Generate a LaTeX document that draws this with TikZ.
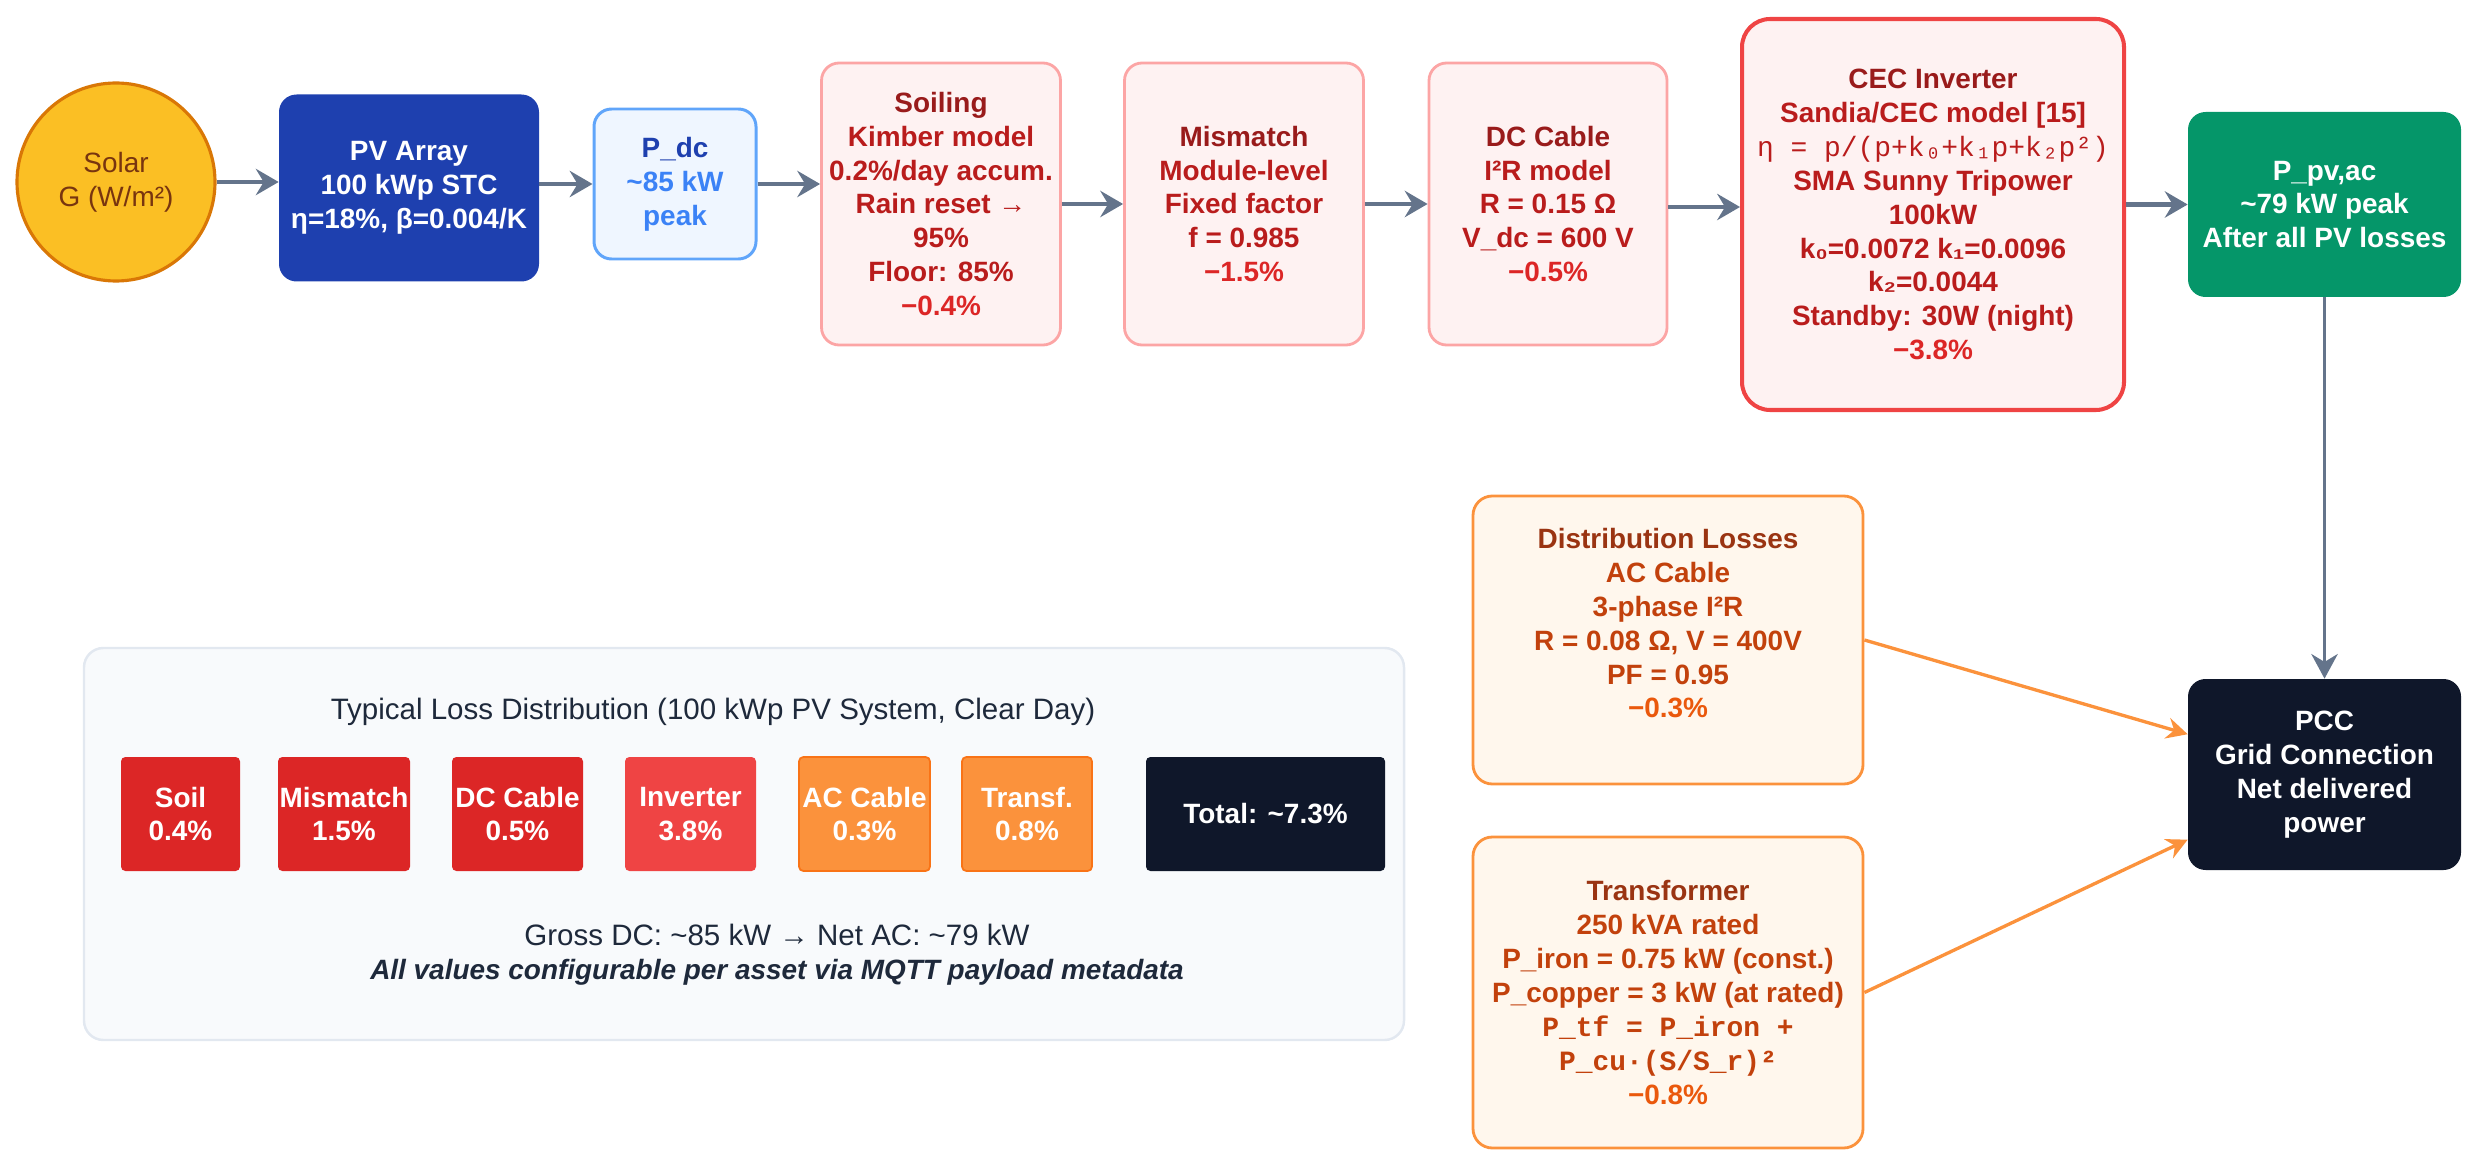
\documentclass[tikz,border=0pt]{standalone}
\usepackage{fontspec}
\setmainfont{Liberation Sans}
\setmonofont{Liberation Mono}
\usetikzlibrary{arrows.meta,calc}
\definecolor{arrgray}{HTML}{64748B}
\definecolor{sunfill}{HTML}{FBBF24}
\definecolor{sunline}{HTML}{D97706}
\definecolor{suntext}{HTML}{78350F}
\definecolor{pvblue}{HTML}{1E40AF}
\definecolor{pdcfill}{HTML}{EFF6FF}
\definecolor{pdcline}{HTML}{60A5FA}
\definecolor{pdctext}{HTML}{3B82F6}
\definecolor{lossfill}{HTML}{FEF2F2}
\definecolor{lossline}{HTML}{FCA5A5}
\definecolor{invline}{HTML}{EF4444}
\definecolor{redtitle}{HTML}{991B1B}
\definecolor{redbody}{HTML}{B91C1C}
\definecolor{redloss}{HTML}{DC2626}
\definecolor{green}{HTML}{059669}
\definecolor{navy}{HTML}{0F172A}
\definecolor{orfill}{HTML}{FFF7ED}
\definecolor{orline}{HTML}{FB923C}
\definecolor{ortitle}{HTML}{9A3412}
\definecolor{orbody}{HTML}{C2410C}
\definecolor{orloss}{HTML}{EA580C}
\definecolor{panelfill}{HTML}{F8FAFC}
\definecolor{panelline}{HTML}{E2E8F0}
\definecolor{slate}{HTML}{1E293B}
\definecolor{minired}{HTML}{DC2626}
\definecolor{miniinv}{HTML}{EF4444}
\definecolor{minior}{HTML}{FB923C}
\definecolor{miniorline}{HTML}{F97316}
\newcommand{\fs}{\fontsize{15.9}{19.3}\selectfont}
\newcommand{\fsl}{\fontsize{16.8}{19.3}\selectfont}
\newcommand{\bt}{\fs\bfseries}
\begin{document}
\begin{tikzpicture}[x=0.02cm,y=-0.02cm,
  sz/.style 2 args={minimum width=#1*0.02cm, minimum height=#2*0.02cm, inner sep=0pt},
  txt/.style={align=center, font=\bt},
  gflow/.style={draw=arrgray, line width=2.6pt, -{Stealth[length=13pt,width=15pt,inset=4.5pt]}},
  oflow/.style={draw=orline, line width=1.9pt, -{Stealth[length=12pt,width=12pt,inset=4pt]}},
  pflow/.style={draw=arrgray, line width=2pt, -{Stealth[length=14pt,width=15pt,inset=4.5pt]}},
  lossbox/.style={txt, draw=lossline, fill=lossfill, line width=1.6pt, rounded corners=10pt},
  orbox/.style={txt, draw=orline, fill=orfill, line width=1.6pt, rounded corners=11pt},
  mini/.style={txt, text=white, rounded corners=2.5pt},
]
\useasboundingbox (0,0) rectangle (2477,1165);

% top row
\node[circle, draw=sunline, fill=sunfill, line width=1.8pt, minimum size=198*0.02cm, inner sep=0pt, align=center,
  font=\fs, text=suntext] (solar) at (116,182) {Solar\\G (W/m²)};
\node[txt, sz={260}{187}, fill=pvblue, text=white, rounded corners=10pt] (pv) at (409,188)
  {PV Array\\100 kWp STC\\η=18\%, β=0.004/K};
\node[txt, sz={162}{150}, fill=pdcfill, draw=pdcline, line width=1.7pt, rounded corners=10pt] (pdc) at (675,184)
  {\textcolor{pvblue}{P\_dc}\\\textcolor{pdctext}{\textasciitilde85 kW}\\\textcolor{pdctext}{peak}};
\node[lossbox, sz={239}{282}] (soil) at (941,204)
  {\textcolor{redtitle}{Soiling}\\\textcolor{redbody}{Kimber model}\\\textcolor{redbody}{0.2\%/day accum.}\\\textcolor{redbody}{Rain reset →}\\\textcolor{redbody}{95\%}\\\textcolor{redbody}{Floor: 85\%}\\\textcolor{redloss}{−0.4\%}};
\node[lossbox, sz={239}{282}] (mism) at (1244,204)
  {\textcolor{redtitle}{Mismatch}\\\textcolor{redbody}{Module-level}\\\textcolor{redbody}{Fixed factor}\\\textcolor{redbody}{f = 0.985}\\\textcolor{redloss}{−1.5\%}};
\node[lossbox, sz={238}{282}] (dcc) at (1548,204)
  {\textcolor{redtitle}{DC Cable}\\\textcolor{redbody}{I²R model}\\\textcolor{redbody}{R = 0.15 Ω}\\\textcolor{redbody}{V\_dc = 600 V}\\\textcolor{redloss}{−0.5\%}};
\node[txt, sz={382}{391}, draw=invline, fill=lossfill, line width=2.3pt, rounded corners=16pt] (cec) at (1933,214.5)
  {\textcolor{redtitle}{CEC Inverter}\\\textcolor{redbody}{Sandia/CEC model [15]}\\\textcolor{redbody}{\ttfamily\mdseries η = p/(p+k₀+k₁p+k₂p²)}\\\textcolor{redbody}{SMA Sunny Tripower}\\\textcolor{redbody}{100kW}\\\textcolor{redbody}{k₀=0.0072 k₁=0.0096}\\\textcolor{redbody}{k₂=0.0044}\\\textcolor{redbody}{Standby: 30W (night)}\\\textcolor{redloss}{−3.8\%}};
\node[txt, sz={273}{185}, fill=green, text=white, rounded corners=10pt] (pvac) at (2324.5,204.5)
  {P\_pv,ac\\\textasciitilde79 kW peak\\After all PV losses};

% right column
\node[orbox, sz={390}{288}] (dist) at (1668,640)
  {\textcolor{ortitle}{Distribution Losses}\\\textcolor{orbody}{AC Cable}\\\textcolor{orbody}{3-phase I²R}\\\textcolor{orbody}{R = 0.08 Ω, V = 400V}\\\textcolor{orbody}{PF = 0.95}\\\textcolor{orloss}{−0.3\%}\\{}};
\node[orbox, sz={390}{311}] (trafo) at (1668,992.5)
  {\textcolor{ortitle}{Transformer}\\\textcolor{orbody}{250 kVA rated}\\\textcolor{orbody}{P\_iron = 0.75 kW (const.)}\\\textcolor{orbody}{P\_copper = 3 kW (at rated)}\\\textcolor{orbody}{\ttfamily P\_tf = P\_iron +}\\\textcolor{orbody}{\ttfamily P\_cu·(S/S\_r)²}\\\textcolor{orloss}{−0.8\%}};
\node[txt, sz={273}{191}, fill=navy, text=white, rounded corners=10pt] (pcc) at (2324.5,774.5)
  {PCC\\Grid Connection\\Net delivered\\power};

% connectors
\draw[gflow] (solar) -- (solar -| pv.west);
\draw[gflow] (pv.east |- pdc) -- (pdc.west);
\draw[gflow] (pdc.east) -- (pdc.east -| soil.west);
\draw[gflow] (soil) -- (mism);
\draw[gflow] (mism) -- (dcc);
\coordinate (dcout) at ($(dcc.east)+(0,3)$);
\draw[gflow] (dcout) -- (dcout -| cec.west);
\draw[gflow] (cec.east |- pvac.west) -- (pvac.west);
\draw[pflow] (pvac.south) -- (pcc.north);
\coordinate (pccA) at ($(pcc.north west)!0.29!(pcc.south west)$);
\coordinate (pccB) at ($(pcc.north west)!0.84!(pcc.south west)$);
\draw[oflow] (dist.east) -- (pccA);
\draw[oflow] (trafo.east) -- (pccB);

% summary panel
\node[draw=panelline, fill=panelfill, line width=1.4pt, rounded corners=11pt, sz={1320}{392}] (panel) at (744,844) {};
\node[font=\fsl, text=slate] (ptitle) at (713,712)
  {Typical Loss Distribution (100 kWp PV System, Clear Day)};
\node[mini, fill=minired, sz={119}{114}] (msoil) at (180.5,814) {Soil\\0.4\%};
\node[mini, fill=minired, sz={132}{114}] (mmism) at (344,814) {Mismatch\\1.5\%};
\node[mini, fill=minired, sz={131}{114}] (mdcc) at (517.5,814) {DC Cable\\0.5\%};
\node[mini, fill=miniinv, sz={131}{114}] (minv) at (690.5,814) {Inverter\\3.8\%};
\node[mini, fill=minior, draw=miniorline, line width=1pt, sz={131}{114}] (mac) at (864.5,814) {AC Cable\\0.3\%};
\node[mini, fill=minior, draw=miniorline, line width=1pt, sz={130}{114}] (mtf) at (1027,814) {Transf.\\0.8\%};
\node[mini, fill=navy, sz={239}{114}] (mtot) at (1265.5,814) {Total: \textasciitilde7.3\%};
\node[font=\fsl, text=slate] (gross) at (777,935)
  {Gross DC: \textasciitilde85 kW → Net AC: \textasciitilde79 kW};
\node[font=\fs\bfseries\itshape, text=slate] (note) at (777,972)
  {All values configurable per asset via MQTT payload metadata};
\end{tikzpicture}
\end{document}
